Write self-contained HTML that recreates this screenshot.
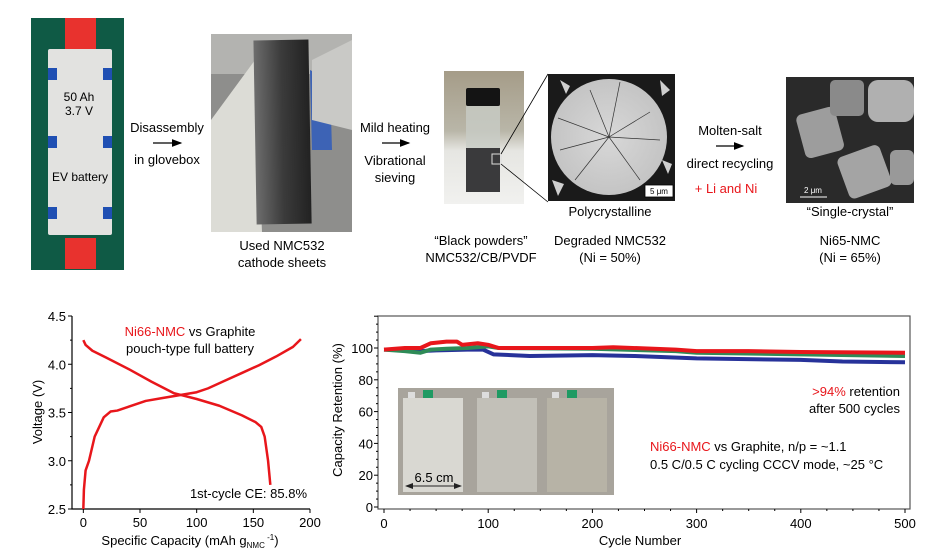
<!DOCTYPE html>
<html><head><meta charset="utf-8">
<style>
html,body{margin:0;padding:0;background:#fff;}
svg{display:block;font-family:"Liberation Sans",Arial,sans-serif;}
</style></head>
<body>
<svg id="fig" width="931" height="558" viewBox="0 0 931 558" xmlns="http://www.w3.org/2000/svg">
<defs>
<marker id="ah" markerWidth="8" markerHeight="8" refX="7" refY="4" orient="auto"><path d="M0,1 L8,4 L0,7 z" fill="#000"/></marker>
<marker id="ah2" markerWidth="8" markerHeight="8" refX="7" refY="4" orient="auto-start-reverse"><path d="M0,1 L8,4 L0,7 z" fill="#222"/></marker>
<linearGradient id="vialbg" x1="0" y1="0" x2="0" y2="1"><stop offset="0" stop-color="#a59c88"/><stop offset="0.45" stop-color="#b9b6a8"/><stop offset="0.6" stop-color="#e6e6e2"/><stop offset="1" stop-color="#f1f1ef"/></linearGradient>
<linearGradient id="sheet" x1="0" y1="0" x2="1" y2="0"><stop offset="0" stop-color="#6d6d6d"/><stop offset="0.5" stop-color="#3b3b3b"/><stop offset="1" stop-color="#222"/></linearGradient>
<radialGradient id="poly" cx="0.5" cy="0.5" r="0.5"><stop offset="0" stop-color="#d8d8d8"/><stop offset="1" stop-color="#c4c4c4"/></radialGradient>
</defs>

<!-- TOP: EV battery photo -->
<g>
<rect x="31" y="18" width="93" height="252" fill="#0f5a45"/>
<rect x="65" y="18" width="31" height="34" fill="#e8322e"/>
<rect x="65" y="238" width="31" height="31" fill="#e8322e"/>
<rect x="48" y="49" width="64" height="186" fill="#e2e2e0" rx="2"/>
<rect x="48" y="68" width="9" height="12" fill="#1f4fb3"/><rect x="103" y="68" width="9" height="12" fill="#1f4fb3"/>
<rect x="48" y="136" width="9" height="12" fill="#1f4fb3"/><rect x="103" y="136" width="9" height="12" fill="#1f4fb3"/>
<rect x="48" y="207" width="9" height="12" fill="#1f4fb3"/><rect x="103" y="207" width="9" height="12" fill="#1f4fb3"/>
<text x="79" y="101" font-size="12" text-anchor="middle">50 Ah</text>
<text x="79" y="115" font-size="12" text-anchor="middle">3.7 V</text>
<text x="80" y="181" font-size="12" text-anchor="middle">EV battery</text>
</g>
<g font-size="13" text-anchor="middle">
<text x="167" y="132">Disassembly</text>
<line x1="153" y1="143" x2="181" y2="143" stroke="#000" stroke-width="1.3" marker-end="url(#ah)"/>
<text x="167" y="164">in glovebox</text>
</g>
<g>
<rect x="211" y="34" width="141" height="198" fill="#8e8e8c"/>
<rect x="211" y="34" width="141" height="40" fill="#b3b3b0"/>
<path d="M211,120 L255,60 L262,232 L211,232 z" fill="#dcdcd6"/>
<rect x="255" y="40" width="55" height="184" fill="url(#sheet)" transform="rotate(-1 282 130)"/>
<path d="M310,70 L330,80 L332,150 L312,150 z" fill="#3d63b5"/>
<path d="M312,60 L352,40 L352,130 L312,120 z" fill="#c9c9c6"/>
<text x="282" y="250" font-size="13" text-anchor="middle">Used NMC532</text>
<text x="282" y="267" font-size="13" text-anchor="middle">cathode sheets</text>
</g>
<g font-size="13" text-anchor="middle">
<text x="395" y="132">Mild heating</text>
<line x1="382" y1="143" x2="409" y2="143" stroke="#000" stroke-width="1.3" marker-end="url(#ah)"/>
<text x="395" y="165">Vibrational</text>
<text x="395" y="182">sieving</text>
</g>
<g>
<rect x="444" y="71" width="80" height="133" fill="url(#vialbg)"/>
<rect x="466" y="88" width="34" height="18" fill="#141414" rx="2"/>
<rect x="466" y="106" width="34" height="42" fill="#c8ccc6" opacity="0.8"/>
<rect x="466" y="148" width="34" height="44" fill="#3a3a3c"/>
<rect x="492" y="154" width="9" height="10" fill="none" stroke="#ddd" stroke-width="1"/>
<line x1="501" y1="154" x2="548" y2="74" stroke="#000" stroke-width="0.8"/>
<line x1="501" y1="164" x2="548" y2="202" stroke="#000" stroke-width="0.8"/>
<text x="481" y="245" font-size="13" text-anchor="middle">“Black powders”</text>
<text x="481" y="262" font-size="13" text-anchor="middle">NMC532/CB/PVDF</text>
</g>
<g>
<rect x="548" y="74" width="127" height="127" fill="#1a1a1a"/>
<circle cx="609" cy="137" r="58" fill="url(#poly)"/>
<path d="M560,80 l10,6 l-4,8 z M660,80 l10,10 l-8,6 z M552,180 l12,4 l-6,12 z M662,160 l10,4 l-4,10 z" fill="#cfcfcf"/>
<g stroke="#333" stroke-width="0.7" fill="none">
<path d="M609,137 L560,150 M609,137 L650,112 M609,137 L590,90 M609,137 L640,180 M609,137 L575,180 M609,137 L660,140 M609,137 L620,82 M609,137 L558,118"/>
</g>
<rect x="645" y="185" width="28" height="12" fill="#fff" stroke="#000" stroke-width="0.8"/>
<text x="659" y="194" font-size="8" text-anchor="middle">5 μm</text>
<text x="610" y="216" font-size="13" text-anchor="middle">Polycrystalline</text>
<text x="610" y="245" font-size="13" text-anchor="middle">Degraded NMC532</text>
<text x="610" y="262" font-size="13" text-anchor="middle">(Ni = 50%)</text>
</g>
<g font-size="13" text-anchor="middle">
<text x="730" y="135">Molten-salt</text>
<line x1="716" y1="146" x2="743" y2="146" stroke="#000" stroke-width="1.3" marker-end="url(#ah)"/>
<text x="730" y="168">direct recycling</text>
<text x="726" y="193" fill="#e8161b">+ Li and Ni</text>
</g>
<g>
<rect x="786" y="77" width="128" height="126" fill="#2a2a2a"/>
<rect x="800" y="110" width="40" height="45" fill="#9d9d9d" rx="6" transform="rotate(-15 820 132)"/>
<rect x="830" y="80" width="34" height="36" fill="#8a8a8a" rx="5"/>
<rect x="868" y="80" width="46" height="42" fill="#b0b0b0" rx="10"/>
<rect x="842" y="150" width="45" height="44" fill="#a4a4a4" rx="6" transform="rotate(-20 864 172)"/>
<rect x="890" y="150" width="24" height="35" fill="#999" rx="6"/>
<line x1="800" y1="197" x2="827" y2="197" stroke="#fff" stroke-width="1"/>
<text x="813" y="193" font-size="8" fill="#fff" text-anchor="middle">2 μm</text>
<text x="850" y="216" font-size="13" text-anchor="middle">“Single-crystal”</text>
<text x="850" y="245" font-size="13" text-anchor="middle">Ni65-NMC</text>
<text x="850" y="262" font-size="13" text-anchor="middle">(Ni = 65%)</text>
</g>

<!-- LEFT CHART -->
<g id="left"></g>
<!-- RIGHT CHART -->
<g id="right"></g>
</svg>
<script>
// ---- left chart data
const chargeCap = [0,0.5,2,5,10,18,24,30,40,55,70,85,100,110,125,140,155,170,185,192];
const chargeV   = [2.5,2.7,2.9,3.0,3.25,3.45,3.51,3.52,3.56,3.62,3.65,3.68,3.71,3.75,3.83,3.91,3.99,4.08,4.18,4.26];
const dischCap  = [0,2,8,20,40,60,80,100,120,140,152,157,160,163,165];
const dischV    = [4.25,4.2,4.14,4.07,3.95,3.82,3.70,3.64,3.57,3.47,3.40,3.35,3.25,3.0,2.75];
const leftXTicks = [0,50,100,150,200];
const leftYTicks = [2.5,3.0,3.5,4.0,4.5];
// ---- right chart data
const redCycles   = [0,20,35,45,60,70,75,90,100,110,200,220,280,300,350,400,500];
const redRet      = [99,100,100,103,104,104,102,103,102,100,100,100.5,99,98,98,97.5,97];
const greenCycles = [0,20,35,45,60,80,100,110,200,280,300,400,500];
const greenRet    = [99,98,97,99,99.5,100,101,100,99.5,98,97,96,95];
const blueCycles  = [0,20,35,50,80,95,105,140,200,240,300,400,440,500];
const blueRet     = [99,99,98,98.5,99,99,96,95,95.5,95,93.5,92.5,91.5,91];
const rightXTicks = [0,100,200,300,400,500];
const rightYTicks = [0,20,40,60,80,100];

const NS='http://www.w3.org/2000/svg';
function mk(parent,tag,attrs,text){const e=document.createElementNS(NS,tag);for(const k in attrs)e.setAttribute(k,attrs[k]);if(text!==undefined)e.textContent=text;parent.appendChild(e);return e;}

// LEFT
(function(){
const g=document.getElementById('left');
const L=72,R=310,T=316,B=509,x0=-10,x1=200,y0=2.5,y1=4.5;
const sx=v=>L+(v-x0)/(x1-x0)*(R-L), sy=v=>B-(v-y0)/(y1-y0)*(B-T);
const ax=mk(g,'path',{d:`M${L},${T} V${B} H${R}`,fill:'none',stroke:'#000','stroke-width':1.2});


leftXTicks.forEach(v=>{const x=sx(v);
 const t=mk(g,'line',{x1:x,x2:x,y1:B,y2:B+4,stroke:'#000'});
 
 
 const l=mk(g,'text',{x:x,y:B+18,'font-size':13,'text-anchor':'middle'},String(v));
 
 });
leftYTicks.forEach(v=>{const y=sy(v);
 const t=mk(g,'line',{x1:L-4,x2:L,y1:y,y2:y,stroke:'#000'});
 
 
 const l=mk(g,'text',{x:L-6,y:y+5,'font-size':13,'text-anchor':'end'},v.toFixed(1));
 
 });
[2.75,3.25,3.75,4.25].forEach(v=>mk(g,'line',{x1:L-2,x2:L,y1:sy(v),y2:sy(v),stroke:'#000'}));
const c=mk(g,'polyline',{points:chargeCap.map((v,i)=>sx(v)+','+sy(chargeV[i])).join(' '),fill:'none',stroke:'#e8161b','stroke-width':2.5,'stroke-linejoin':'round'});


const d=mk(g,'polyline',{points:dischCap.map((v,i)=>sx(v)+','+sy(dischV[i])).join(' '),fill:'none',stroke:'#e8161b','stroke-width':2.5,'stroke-linejoin':'round'});


const t1=mk(g,'text',{x:190,y:336,'font-size':13,'text-anchor':'middle'});


mk(t1,'tspan',{fill:'#e8161b'},'Ni66-NMC');mk(t1,'tspan',{},' vs Graphite');
const t2=mk(g,'text',{x:190,y:353,'font-size':13,'text-anchor':'middle'},'pouch-type full battery');


const ce=mk(g,'text',{x:307,y:498,'font-size':13,'text-anchor':'end'},'1st-cycle CE: 85.8%');


const xt=mk(g,'text',{x:190,y:545,'font-size':13,'text-anchor':'middle'});


mk(xt,'tspan',{},'Specific Capacity (mAh g');mk(xt,'tspan',{'font-size':8,dy:3},'NMC');mk(xt,'tspan',{'font-size':8,dy:-8},' -1');mk(xt,'tspan',{dy:5},')');
const yt=mk(g,'text',{x:0,y:0,'font-size':13,'text-anchor':'middle',transform:'translate(42,412) rotate(-90)'},'Voltage  (V)');


})();

// RIGHT
(function(){
const g=document.getElementById('right');
const L=378,R=910,T=316,B=509;
const sx=v=>384+v*1.042, sy=v=>507-v*1.59;
const ax=mk(g,'rect',{x:L,y:T,width:R-L,height:B-T,fill:'none',stroke:'#555','stroke-width':1.2});


for(let v=0;v<=500;v+=25)mk(g,'line',{x1:sx(v),x2:sx(v),y1:B,y2:B+(v%100?2:4),stroke:'#000'});
for(let v=0;v<=120;v+=5)mk(g,'line',{x1:L-(v%20?2:4),x2:L,y1:sy(v),y2:sy(v),stroke:'#000'});
rightXTicks.forEach(v=>{const l=mk(g,'text',{x:sx(v),y:B+19,'font-size':13,'text-anchor':'middle'},String(v));
 
 });
rightYTicks.forEach(v=>{const l=mk(g,'text',{x:L-5,y:sy(v)+5,'font-size':13,'text-anchor':'end'},String(v));
 
 });
// inset photo
const ph=mk(g,'g',{});


mk(ph,'rect',{x:398,y:388,width:216,height:107,fill:'#a8a49c'});
[[403,'#d9d8d2'],[477,'#c2c0b8'],[547,'#b7b3a6']].forEach(([x,f])=>{
 mk(ph,'rect',{x:x+5,y:392,width:7,height:6,fill:'#ddd'});
 mk(ph,'rect',{x:x+20,y:390,width:10,height:18,fill:'#1f9a63'});
 mk(ph,'rect',{x:x,y:398,width:60,height:94,fill:f});});
mk(ph,'line',{x1:406,y1:486,x2:461,y2:486,stroke:'#222','stroke-width':1,'marker-start':'url(#ah2)','marker-end':'url(#ah2)'});
mk(ph,'text',{x:434,y:482,'font-size':13,'text-anchor':'middle'},'6.5 cm');
[[redCycles,redRet,'#e8161b','red-cell-series'],[greenCycles,greenRet,'#2e8b57','green-cell-series'],[blueCycles,blueRet,'#27329a','blue-cell-series']].slice().reverse().forEach(([xs,ys,col,nm])=>{
 const p=mk(g,'polyline',{points:xs.map((v,i)=>sx(v)+','+sy(ys[i])).join(' '),fill:'none',stroke:col,'stroke-width':4,'stroke-linejoin':'round'});
 
 });
const a1=mk(g,'text',{x:900,y:396,'font-size':13,'text-anchor':'end'});


mk(a1,'tspan',{fill:'#e8161b'},'>94%');mk(a1,'tspan',{},' retention');
const a2=mk(g,'text',{x:900,y:413,'font-size':13,'text-anchor':'end'},'after 500 cycles');


const b1=mk(g,'text',{x:650,y:451,'font-size':13});


mk(b1,'tspan',{fill:'#e8161b'},'Ni66-NMC');mk(b1,'tspan',{},' vs Graphite, n/p = ~1.1');
const b2=mk(g,'text',{x:650,y:469,'font-size':13},'0.5 C/0.5 C cycling CCCV mode, ~25 °C');


const xt=mk(g,'text',{x:640,y:545,'font-size':13,'text-anchor':'middle'},'Cycle Number');


const yt=mk(g,'text',{x:0,y:0,'font-size':13,'text-anchor':'middle',transform:'translate(342,410) rotate(-90)'},'Capacity Retention (%)');


})();
</script>
</body></html>
